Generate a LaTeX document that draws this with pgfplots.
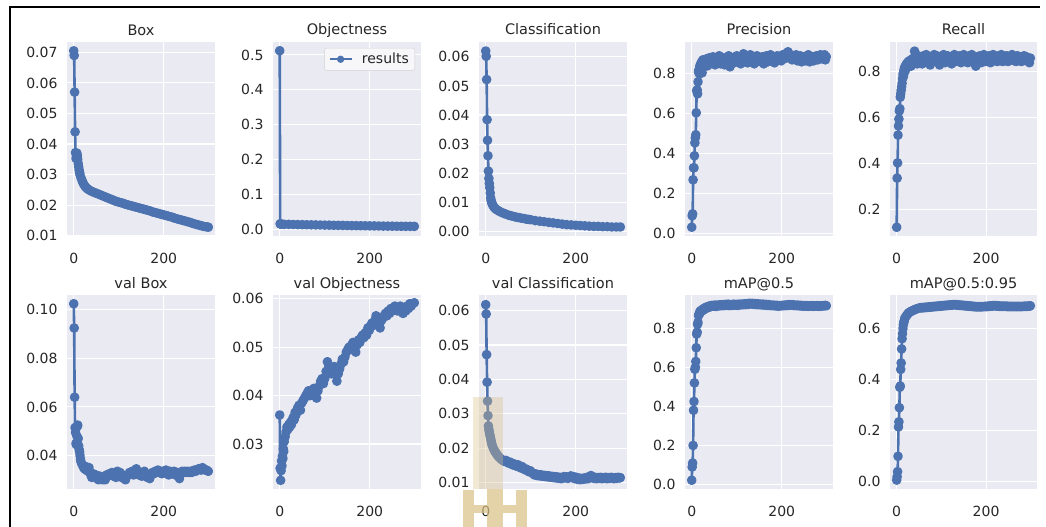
\documentclass[border=0pt]{standalone}
\usepackage{fontspec}
\setmainfont{DejaVu Sans}
\usepackage{pgfplots}
\pgfplotsset{compat=1.18}

\definecolor{bgc}{HTML}{EAEAF2}
\definecolor{sb}{HTML}{4C72B0}
\definecolor{txt}{HTML}{262626}
\definecolor{wm}{HTML}{D9BF84}

\pgfplotsset{
  res/.style={
    width=148pt, height=194pt, scale only axis,
    anchor=north west,
    xmin=-14.95, xmax=313.95,
    xtick={0,200}, xticklabels={0,200},
    scaled y ticks=false,
    axis background/.style={fill=bgc},
    axis line style={draw=none},
    grid=major,
    major grid style={white, line width=1.1pt},
    major tick length=0pt,
    tick label style={font=\fontsize{14}{16}\selectfont, text=txt},
    yticklabel style={xshift=-6pt},
    xticklabel style={yshift=-14pt},
    every axis title shift=0pt,
    title style={at={(0.5,1)}, anchor=base, yshift=7pt,
      font=\fontsize{14.5}{16}\selectfont, text=txt},
    every axis plot post/.append style={sb, line width=2.6pt, line join=round,
      mark=*, mark size=3.5pt, mark options={draw=none, fill=sb}},
  }
}

\begin{document}
\begin{tikzpicture}
\path[use as bounding box] (0pt,0pt) rectangle (1046pt,-527pt);

% ---------- row 1 ----------
\begin{axis}[res, at={(67pt,-42pt)}, title={Box},
  ymin=0.0099, ymax=0.0734,
  ytick={0.01,0.02,0.03,0.04,0.05,0.06,0.07},
  yticklabels={0.01,0.02,0.03,0.04,0.05,0.06,0.07}]
\addplot coordinates {
(0,0.0705)(1,0.0690)(2,0.0570)(3,0.0440)(4,0.0372)(5,0.0353)(6,0.0365)(7,0.0370)
(8,0.0362)(9,0.0350)(10,0.0336)(11,0.0325)(12,0.0315)(13,0.0307)(14,0.0300)
(16,0.0290)(18,0.0282)(20,0.0275)(22,0.0269)(25,0.0262)(28,0.0257)(31,0.0253)
(35,0.0249)(40,0.0245)(45,0.0242)(50,0.0239)(55,0.0236)(60,0.0233)(65,0.0230)
(70,0.0227)(75,0.0224)(80,0.0221)(85,0.0218)(90,0.0215)(95,0.0212)(100,0.0210)
(105,0.0208)(110,0.0206)(115,0.0203)(120,0.0201)(125,0.0199)(130,0.0197)
(135,0.0195)(140,0.0193)(145,0.0191)(150,0.0189)(155,0.0187)(160,0.0185)
(165,0.0183)(170,0.0181)(175,0.0178)(180,0.0176)(185,0.0174)(190,0.0172)
(195,0.0170)(200,0.0168)(205,0.0166)(210,0.0164)(215,0.0162)(220,0.0160)
(225,0.0157)(230,0.0155)(235,0.0153)(240,0.0151)(245,0.0149)(250,0.0147)
(255,0.0145)(260,0.0143)(265,0.0140)(270,0.0138)(275,0.0136)(280,0.0134)
(285,0.0132)(290,0.0130)(295,0.0129)(299,0.0128)
};
\end{axis}

\begin{axis}[res, at={(273pt,-42pt)}, title={Objectness},
  ymin=-0.019, ymax=0.537,
  ytick={0,0.1,0.2,0.3,0.4,0.5},
  yticklabels={0.0,0.1,0.2,0.3,0.4,0.5},
  legend style={at={(1,1)}, anchor=north east, xshift=-6pt, yshift=-6pt,
    draw=black!18, fill=white!60!bgc, rounded corners=2pt,
    font=\fontsize{14}{16}\selectfont, text=txt,
    inner xsep=4pt, inner ysep=3pt},
  legend image code/.code={\draw[mark repeat=2,mark phase=2,#1,mark size=2.6pt,line width=2pt]
    plot coordinates {(0pt,0pt) (11pt,0pt) (22pt,0pt)};
    \path (29pt,0pt);}]
\addplot coordinates {
(0,0.512)(1,0.0160)(2,0.0155)(3,0.0150)(5,0.0148)(10,0.0145)(20,0.0142)
(30,0.0140)(40,0.0137)(50,0.0135)(60,0.0132)(70,0.0130)(80,0.0127)(90,0.0125)
(100,0.0122)(110,0.0120)(120,0.0117)(130,0.0115)(140,0.0113)(150,0.0111)
(160,0.0109)(170,0.0107)(180,0.0105)(190,0.0103)(200,0.0101)(210,0.0099)
(220,0.0097)(230,0.0095)(240,0.0093)(250,0.0092)(260,0.0090)(270,0.0089)
(280,0.0088)(290,0.0087)(299,0.0086)
};
\addlegendentry{results}
\end{axis}

\begin{axis}[res, at={(479pt,-42pt)}, title={Classification},
  ymin=-0.0016, ymax=0.0651,
  ytick={0,0.01,0.02,0.03,0.04,0.05,0.06},
  yticklabels={0.00,0.01,0.02,0.03,0.04,0.05,0.06}]
\addplot coordinates {
(0,0.0620)(1,0.0602)(2,0.0522)(3,0.0384)(4,0.0313)(5,0.0260)(6,0.0207)(7,0.0182)
(8,0.0165)(9,0.0150)(10,0.0132)(11,0.0115)(12,0.0106)(13,0.0100)(14,0.0095)
(16,0.0089)(18,0.0084)(20,0.0080)(23,0.0076)(26,0.0073)(30,0.0069)(35,0.0065)
(40,0.0062)(45,0.0059)(50,0.0056)(55,0.0054)(60,0.0052)(65,0.0050)(70,0.0048)
(75,0.0047)(80,0.0045)(85,0.0044)(90,0.0042)(95,0.0041)(100,0.0040)(110,0.0037)
(120,0.0035)(130,0.0033)(140,0.0031)(150,0.0029)(160,0.0027)(170,0.0025)
(180,0.0023)(190,0.0022)(200,0.0021)(210,0.0020)(220,0.0019)(230,0.0018)
(240,0.0017)(250,0.0017)(260,0.0016)(270,0.0016)(280,0.0015)(290,0.0015)
(299,0.0015)
};
\end{axis}

\begin{axis}[res, at={(685pt,-42pt)}, title={Precision},
  ymin=-0.011, ymax=0.959,
  ytick={0,0.2,0.4,0.6,0.8},
  yticklabels={0.0,0.2,0.4,0.6,0.8}]
\addplot coordinates {
(0,0.033)(1,0.090)(2,0.100)(3,0.270)(4,0.330)(5,0.330)(6,0.390)(7,0.455)
(8,0.480)(9,0.495)(10,0.605)(11,0.715)(12,0.720)(13,0.700)(14,0.760)(15,0.810)
(16,0.820)(17,0.800)(18,0.840)(19,0.815)(20,0.850)(21,0.830)(22,0.860)(23,0.805)
(24,0.845)(25,0.870)(27,0.835)(29,0.860)(31,0.850)(33,0.875)(35,0.840)(37,0.865)
(39,0.880)(41,0.850)(43,0.870)(45,0.855)(47,0.885)(49,0.860)(52,0.845)(55,0.875)
(58,0.865)(61,0.890)(64,0.850)(67,0.870)(70,0.880)(73,0.845)(76,0.875)(79,0.860)
(82,0.890)(85,0.835)(88,0.870)(91,0.880)(94,0.855)(97,0.875)(100,0.890)(103,0.860)
(106,0.880)(109,0.850)(112,0.870)(115,0.900)(118,0.865)(121,0.880)(124,0.855)
(127,0.875)(130,0.895)(133,0.860)(136,0.880)(139,0.850)(142,0.870)(145,0.890)
(148,0.865)(151,0.880)(154,0.860)(157,0.885)(160,0.850)(163,0.870)(166,0.890)
(169,0.860)(172,0.875)(175,0.895)(178,0.865)(181,0.880)(184,0.855)(187,0.875)
(190,0.890)(193,0.870)(196,0.880)(199,0.865)(202,0.895)(205,0.875)(208,0.900)
(211,0.880)(214,0.910)(217,0.885)(220,0.895)(223,0.870)(226,0.890)(229,0.875)
(232,0.895)(235,0.865)(238,0.880)(241,0.890)(244,0.860)(247,0.875)(250,0.885)
(253,0.865)(256,0.880)(259,0.895)(262,0.860)(265,0.875)(268,0.885)(271,0.865)
(274,0.880)(277,0.890)(280,0.870)(283,0.885)(286,0.895)(289,0.875)(292,0.880)
(295,0.895)(297,0.870)(299,0.885)
};
\end{axis}

\begin{axis}[res, at={(890pt,-42pt)}, width=147pt, title={Recall},
  ymin=0.086, ymax=0.930,
  ytick={0.2,0.4,0.6,0.8},
  yticklabels={0.2,0.4,0.6,0.8}]
\addplot coordinates {
(0,0.124)(1,0.338)(2,0.404)(3,0.525)(4,0.565)(5,0.595)(6,0.630)(7,0.640)
(8,0.690)(9,0.705)(10,0.720)(11,0.735)(12,0.750)(13,0.770)(14,0.790)(15,0.780)
(16,0.805)(17,0.815)(18,0.800)(19,0.825)(20,0.810)(22,0.835)(24,0.820)(26,0.845)
(28,0.830)(30,0.850)(32,0.825)(34,0.855)(36,0.840)(38,0.860)(40,0.890)(42,0.845)
(44,0.865)(46,0.835)(48,0.870)(51,0.850)(54,0.860)(57,0.835)(60,0.870)(63,0.850)
(66,0.875)(69,0.845)(72,0.860)(75,0.830)(78,0.865)(81,0.850)(84,0.875)(87,0.845)
(90,0.870)(93,0.855)(96,0.830)(99,0.865)(102,0.850)(105,0.875)(108,0.840)
(111,0.860)(114,0.870)(117,0.845)(120,0.865)(123,0.835)(126,0.860)(129,0.875)
(132,0.845)(135,0.865)(138,0.850)(141,0.870)(144,0.840)(147,0.860)(150,0.875)
(153,0.850)(156,0.865)(159,0.840)(162,0.870)(165,0.855)(168,0.875)(171,0.845)
(174,0.860)(177,0.825)(180,0.865)(183,0.850)(186,0.870)(189,0.840)(192,0.860)
(195,0.875)(198,0.845)(201,0.865)(204,0.850)(207,0.870)(210,0.840)(213,0.860)
(216,0.875)(219,0.850)(222,0.865)(225,0.845)(228,0.870)(231,0.855)(234,0.875)
(237,0.845)(240,0.860)(243,0.850)(246,0.870)(249,0.845)(252,0.865)(255,0.855)
(258,0.875)(261,0.850)(264,0.860)(267,0.845)(270,0.870)(273,0.855)(276,0.865)
(279,0.845)(282,0.860)(285,0.870)(288,0.850)(291,0.865)(294,0.855)(297,0.840)
(299,0.860)
};
\end{axis}

% ---------- row 2 ----------
\begin{axis}[res, at={(67pt,-295pt)}, title={val Box},
  ymin=0.0262, ymax=0.1061,
  ytick={0.04,0.06,0.08,0.10},
  yticklabels={0.04,0.06,0.08,0.10}]
\addplot coordinates {
(0,0.1025)(1,0.0925)(2,0.0640)(3,0.0515)(4,0.0495)(5,0.0450)(6,0.0445)(7,0.0480)
(8,0.0520)(9,0.0525)(10,0.0470)(11,0.0440)(12,0.0425)(13,0.0415)(14,0.0400)
(15,0.0385)(16,0.0375)(18,0.0365)(20,0.0360)(22,0.0350)(24,0.0345)(26,0.0355)
(28,0.0340)(30,0.0345)(32,0.0335)(34,0.0350)(36,0.0330)(38,0.0320)(40,0.0310)
(43,0.0325)(46,0.0315)(49,0.0320)(52,0.0305)(55,0.0300)(58,0.0315)(61,0.0305)
(64,0.0300)(67,0.0310)(70,0.0300)(73,0.0320)(76,0.0315)(79,0.0325)(82,0.0320)
(85,0.0330)(88,0.0315)(91,0.0325)(94,0.0310)(97,0.0335)(100,0.0320)(103,0.0330)
(106,0.0310)(109,0.0320)(112,0.0305)(115,0.0300)(118,0.0315)(121,0.0320)
(124,0.0330)(127,0.0325)(130,0.0335)(133,0.0320)(136,0.0330)(139,0.0345)
(142,0.0335)(145,0.0320)(148,0.0330)(151,0.0315)(154,0.0325)(157,0.0335)
(160,0.0320)(163,0.0310)(166,0.0315)(169,0.0305)(172,0.0320)(175,0.0330)
(178,0.0325)(181,0.0335)(184,0.0330)(187,0.0340)(190,0.0330)(193,0.0335)
(196,0.0325)(199,0.0335)(202,0.0330)(205,0.0340)(208,0.0330)(211,0.0320)
(214,0.0335)(217,0.0330)(220,0.0325)(223,0.0335)(226,0.0320)(229,0.0330)
(232,0.0315)(235,0.0305)(238,0.0330)(241,0.0335)(244,0.0330)(247,0.0335)
(250,0.0330)(253,0.0335)(256,0.0330)(259,0.0335)(262,0.0330)(265,0.0335)
(268,0.0340)(271,0.0335)(274,0.0340)(277,0.0345)(280,0.0345)(283,0.0340)
(286,0.0350)(289,0.0345)(292,0.0340)(295,0.0340)(299,0.0335)
};
\end{axis}

\begin{axis}[res, at={(273pt,-295pt)}, title={val Objectness},
  ymin=0.0207, ymax=0.0608,
  ytick={0.03,0.04,0.05,0.06},
  yticklabels={0.03,0.04,0.05,0.06}]
\addplot coordinates {
(0,0.0360)(1,0.0250)(2,0.0225)(3,0.0245)(4,0.0265)(5,0.0255)(6,0.0275)(7,0.0270)
(8,0.0290)(9,0.0285)(10,0.0305)(12,0.0315)(14,0.0325)(16,0.0335)(18,0.0330)
(20,0.0340)(22,0.0335)(24,0.0345)(26,0.0340)(28,0.0350)(30,0.0355)(32,0.0350)
(34,0.0365)(36,0.0360)(38,0.0370)(40,0.0375)(43,0.0380)(46,0.0370)(49,0.0385)
(52,0.0390)(55,0.0395)(58,0.0400)(61,0.0405)(64,0.0410)(67,0.0400)(70,0.0410)
(73,0.0405)(76,0.0415)(79,0.0400)(82,0.0395)(85,0.0410)(88,0.0420)(91,0.0430)
(94,0.0435)(97,0.0425)(100,0.0435)(103,0.0450)(106,0.0470)(109,0.0460)
(112,0.0450)(115,0.0445)(118,0.0455)(121,0.0460)(124,0.0445)(127,0.0430)
(130,0.0445)(133,0.0455)(136,0.0465)(139,0.0475)(142,0.0470)(145,0.0480)
(148,0.0490)(151,0.0495)(154,0.0500)(157,0.0495)(160,0.0505)(163,0.0510)
(166,0.0500)(169,0.0490)(172,0.0505)(175,0.0515)(178,0.0510)(181,0.0520)
(184,0.0525)(187,0.0520)(190,0.0530)(193,0.0525)(196,0.0540)(199,0.0535)
(202,0.0545)(205,0.0550)(208,0.0545)(211,0.0555)(214,0.0565)(217,0.0550)
(220,0.0545)(223,0.0540)(226,0.0555)(229,0.0560)(232,0.0565)(235,0.0570)
(238,0.0565)(241,0.0575)(244,0.0570)(247,0.0580)(250,0.0575)(253,0.0580)
(256,0.0585)(259,0.0580)(262,0.0575)(265,0.0580)(268,0.0585)(271,0.0575)
(274,0.0570)(277,0.0580)(280,0.0575)(283,0.0585)(286,0.0580)(289,0.0590)
(292,0.0585)(295,0.0590)(299,0.0592)
};
\end{axis}

\begin{axis}[res, at={(479pt,-295pt)}, title={val Classification},
  ymin=0.0082, ymax=0.0645,
  ytick={0.01,0.02,0.03,0.04,0.05,0.06},
  yticklabels={0.01,0.02,0.03,0.04,0.05,0.06}]
\addplot coordinates {
(0,0.0617)(1,0.0590)(2,0.0472)(3,0.0392)(4,0.0337)(5,0.0295)(6,0.0265)(7,0.0255)
(8,0.0248)(9,0.0240)(10,0.0235)(11,0.0228)(12,0.0222)(13,0.0215)(14,0.0210)
(16,0.0203)(18,0.0197)(20,0.0192)(22,0.0188)(24,0.0184)(26,0.0180)(28,0.0177)
(30,0.0174)(33,0.0170)(36,0.0167)(39,0.0164)(42,0.0162)(45,0.0165)(48,0.0160)
(51,0.0157)(54,0.0160)(57,0.0155)(60,0.0152)(63,0.0155)(66,0.0150)(69,0.0148)
(72,0.0152)(75,0.0146)(78,0.0143)(81,0.0147)(84,0.0141)(87,0.0138)(90,0.0140)
(93,0.0135)(96,0.0132)(99,0.0135)(102,0.0130)(105,0.0127)(108,0.0123)(111,0.0126)
(114,0.0121)(117,0.0124)(120,0.0120)(123,0.0123)(126,0.0119)(129,0.0122)
(132,0.0118)(135,0.0121)(138,0.0117)(141,0.0120)(144,0.0116)(147,0.0119)
(150,0.0115)(153,0.0118)(156,0.0114)(159,0.0117)(162,0.0113)(165,0.0116)
(168,0.0112)(171,0.0115)(174,0.0118)(177,0.0114)(180,0.0117)(183,0.0113)
(186,0.0116)(189,0.0120)(192,0.0115)(195,0.0118)(198,0.0112)(201,0.0116)
(204,0.0110)(207,0.0114)(210,0.0109)(213,0.0113)(216,0.0110)(219,0.0114)
(222,0.0111)(225,0.0116)(228,0.0112)(231,0.0118)(234,0.0121)(237,0.0116)
(240,0.0113)(243,0.0116)(246,0.0112)(249,0.0115)(252,0.0113)(255,0.0116)
(258,0.0112)(261,0.0115)(264,0.0113)(267,0.0116)(270,0.0112)(273,0.0115)
(276,0.0113)(279,0.0116)(282,0.0114)(285,0.0112)(288,0.0115)(291,0.0113)
(294,0.0116)(297,0.0114)(299,0.0115)
};
\end{axis}

\begin{axis}[res, at={(685pt,-295pt)}, title={mAP@0.5},
  ymin=-0.023, ymax=0.970,
  ytick={0,0.2,0.4,0.6,0.8},
  yticklabels={0.0,0.2,0.4,0.6,0.8}]
\addplot coordinates {
(0,0.022)(1,0.090)(2,0.110)(3,0.200)(4,0.380)(5,0.425)(6,0.520)(7,0.590)
(8,0.600)(9,0.630)(10,0.700)(11,0.770)(12,0.780)(13,0.820)(14,0.830)(15,0.865)
(16,0.870)(17,0.875)(18,0.885)(19,0.880)(20,0.890)(22,0.888)(24,0.897)(26,0.893)
(28,0.903)(30,0.900)(33,0.909)(36,0.905)(39,0.914)(42,0.910)(45,0.917)(48,0.913)
(51,0.918)(54,0.911)(57,0.919)(60,0.914)(63,0.920)(66,0.915)(69,0.921)(72,0.916)
(75,0.922)(78,0.917)(81,0.923)(84,0.916)(87,0.921)(90,0.917)(93,0.923)(96,0.918)
(99,0.922)(102,0.917)(105,0.923)(108,0.919)(111,0.924)(114,0.920)(117,0.925)
(120,0.921)(123,0.926)(126,0.922)(129,0.928)(132,0.924)(135,0.927)(138,0.922)
(141,0.926)(144,0.921)(147,0.925)(150,0.920)(153,0.924)(156,0.919)(159,0.923)
(162,0.918)(165,0.922)(168,0.917)(171,0.921)(174,0.916)(177,0.919)(180,0.915)
(183,0.918)(186,0.914)(189,0.917)(192,0.913)(195,0.916)(198,0.914)(201,0.917)
(204,0.915)(207,0.919)(210,0.916)(213,0.920)(216,0.917)(219,0.921)(222,0.918)
(225,0.920)(228,0.916)(231,0.919)(234,0.915)(237,0.918)(240,0.914)(243,0.917)
(246,0.913)(249,0.916)(252,0.913)(255,0.916)(258,0.912)(261,0.915)(264,0.913)
(267,0.916)(270,0.912)(273,0.915)(276,0.913)(279,0.916)(282,0.912)(285,0.915)
(288,0.913)(291,0.916)(294,0.914)(297,0.917)(299,0.915)
};
\end{axis}

\begin{axis}[res, at={(890pt,-295pt)}, width=147pt, title={mAP@0.5:0.95},
  ymin=-0.028, ymax=0.731,
  ytick={0,0.2,0.4,0.6},
  yticklabels={0.0,0.2,0.4,0.6}]
\addplot coordinates {
(0,0.007)(1,0.020)(2,0.040)(3,0.100)(4,0.215)(5,0.235)(6,0.290)(7,0.370)
(8,0.375)(9,0.440)(10,0.465)(11,0.520)(12,0.560)(13,0.580)(14,0.600)(15,0.615)
(16,0.625)(17,0.630)(18,0.640)(20,0.645)(22,0.650)(24,0.655)(26,0.660)(28,0.662)
(30,0.665)(33,0.668)(36,0.670)(39,0.673)(42,0.675)(45,0.677)(48,0.679)(51,0.680)
(54,0.682)(57,0.680)(60,0.683)(63,0.681)(66,0.684)(69,0.682)(72,0.685)(75,0.683)
(78,0.686)(81,0.684)(84,0.687)(87,0.685)(90,0.688)(93,0.686)(96,0.689)(99,0.687)
(102,0.690)(105,0.688)(108,0.691)(111,0.689)(114,0.692)(117,0.690)(120,0.693)
(123,0.691)(126,0.694)(129,0.692)(132,0.694)(135,0.691)(138,0.693)(141,0.690)
(144,0.692)(147,0.689)(150,0.691)(153,0.688)(156,0.690)(159,0.687)(162,0.689)
(165,0.686)(168,0.688)(171,0.685)(174,0.687)(177,0.684)(180,0.686)(183,0.684)
(186,0.686)(189,0.684)(192,0.686)(195,0.685)(198,0.687)(201,0.685)(204,0.688)
(207,0.686)(210,0.689)(213,0.687)(216,0.690)(219,0.688)(222,0.690)(225,0.687)
(228,0.689)(231,0.686)(234,0.688)(237,0.686)(240,0.688)(243,0.686)(246,0.688)
(249,0.685)(252,0.687)(255,0.685)(258,0.687)(261,0.685)(264,0.687)(267,0.685)
(270,0.687)(273,0.685)(276,0.687)(279,0.685)(282,0.687)(285,0.686)(288,0.688)
(291,0.686)(294,0.688)(297,0.687)(299,0.689)
};
\end{axis}

% watermark and frame
\fill[wm, opacity=0.35] (473pt,-397pt) rectangle (503pt,-489pt);
\fill[wm, opacity=0.7] (463pt,-490pt) rectangle (474pt,-527pt);
\fill[wm, opacity=0.7] (487pt,-489pt) rectangle (503pt,-527pt);
\fill[wm, opacity=0.7] (516pt,-490pt) rectangle (527pt,-527pt);
\fill[wm, opacity=0.7] (474pt,-505pt) rectangle (487pt,-513pt);
\fill[wm, opacity=0.7] (503pt,-505pt) rectangle (516pt,-513pt);
\draw[line width=2pt] (10pt,-527pt) -- (10pt,-7pt) -- (1040pt,-7pt);
\end{tikzpicture}
\end{document}
